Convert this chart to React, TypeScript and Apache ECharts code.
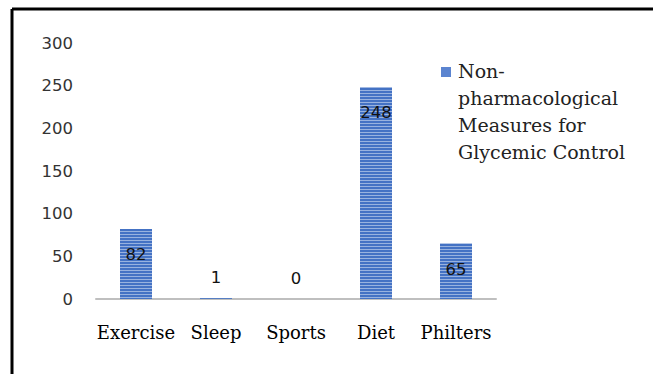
import React, { useEffect, useRef } from "react";
import * as echarts from "echarts";

const categories = ["Exercise", "Sleep", "Sports", "Diet", "Philters"];
const values = [82, 1, 0, 248, 65];
const seriesName = "Non-pharmacological Measures for Glycemic Control";
const legendLines = ["Non-", "pharmacological", "Measures for", "Glycemic Control"];
const yTicks = { min: 0, max: 300, interval: 50 };

export default function App() {
  const ref = useRef<HTMLDivElement>(null);
  useEffect(() => {
    if (!ref.current) return;
    const chart = echarts.init(ref.current, null, { renderer: "svg" });
    const numFont = "DejaVu Sans";
    const serif = "DejaVu Serif";
    chart.setOption({
      animation: false,
      backgroundColor: "#ffffff",
      grid: { left: 96, right: 157, top: 43, bottom: 75 },
      xAxis: {
        type: "category",
        data: categories,
        axisLine: { lineStyle: { color: "#bfbfbf", width: 2 } },
        axisTick: { show: false },
        axisLabel: { color: "#000", fontFamily: serif, fontSize: 18, margin: 24, interval: 0, hideOverlap: false },
      },
      yAxis: {
        type: "value",
        min: yTicks.min,
        max: yTicks.max,
        interval: yTicks.interval,
        splitLine: { show: false },
        axisLine: { show: false },
        axisTick: { show: false },
        axisLabel: { color: "#333", fontFamily: numFont, fontSize: 16.5, margin: 23 },
      },
      series: [
        {
          name: seriesName,
          type: "bar",
          barWidth: 32,
          itemStyle: {
            color: "#4472C4",
            decal: {
              symbol: "rect",
              symbolSize: 1,
              dashArrayX: [1, 0],
              dashArrayY: [1, 2],
              color: "rgba(255,255,255,0.45)",
              rotation: 0,
            },
          },
          label: {
            show: true,
            color: "#111",
            fontFamily: numFont,
            fontSize: 16.5,
          },
          data: values.map((v) => ({
            value: v,
            label: v < 10 ? { position: "top", distance: 12 } : { position: "insideTop", distance: 17 },
          })),
        },
      ],
      graphic: [
        { type: "line", shape: { x1: 12, y1: 9, x2: 653, y2: 9 }, style: { stroke: "#000", lineWidth: 3 } },
        { type: "line", shape: { x1: 12, y1: 9, x2: 12, y2: 374 }, style: { stroke: "#000", lineWidth: 3 } },
        { type: "rect", shape: { x: 441, y: 67, width: 10, height: 10 }, style: { fill: "#5b84d0" } },
        {
          type: "text",
          left: 458,
          top: 57,
          style: {
            text: legendLines.join("\n"),
            font: `19px "${serif}"`,
            fill: "#222",
            lineHeight: 27,
          },
        },
      ],
    });
    return () => chart.dispose();
  }, []);
  return (
    <div
      ref={ref}
      style={{ position: "fixed", left: 0, top: 0, width: 653, height: 374 }}
    />
  );
}
